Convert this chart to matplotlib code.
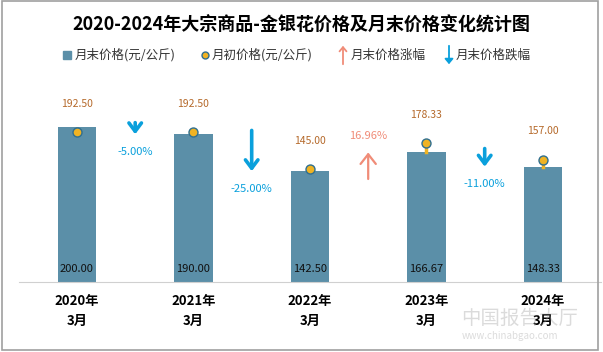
import matplotlib
matplotlib.use('Agg')
import matplotlib.pyplot as plt
from matplotlib.lines import Line2D
from matplotlib.patches import FancyArrowPatch, Rectangle

plt.rcParams['font.family'] = ['Noto Sans CJK SC', 'DejaVu Sans']

# data
categories = ['2020年\n3月', '2021年\n3月', '2022年\n3月', '2023年\n3月', '2024年\n3月']
end_price = [200.00, 190.00, 142.50, 166.67, 148.33]     # 月末价格
start_price = [192.50, 192.50, 145.00, 178.33, 157.00]   # 月初价格
change_pct = [-5.00, -25.00, 16.96, -11.00]              # 月末价格变化

bar_c = '#5b8fa8'
dot_c = '#f0b323'
dot_edge = '#2f6f90'
lab_c = '#b5692a'
down_c = '#0aa0dc'
up_c = '#f08c78'

fig = plt.figure(figsize=(6.03, 3.52), dpi=100)
fig.patches.append(Rectangle((0.003, 0.006), 0.989, 0.99, transform=fig.transFigure,
                             fill=False, edgecolor='#a0a0a0', lw=1.2))
ax = fig.add_axes([0.031, 0.199, 0.966, 0.574])

x = list(range(len(categories)))
ax.bar(x, end_price, width=0.33, color=bar_c, zorder=2)
for i, v in enumerate(end_price):
    ax.text(i, 10, f'{v:.2f}', ha='center', va='bottom', fontsize=8, color='#111111', zorder=4)

# 月初价格 dots (with stem to bar top if higher)
for i, v in enumerate(start_price):
    if v > end_price[i]:
        ax.plot([i, i], [end_price[i], v], color=dot_c, lw=2.5, zorder=3)
ax.scatter(x, start_price, s=42, color=dot_c, edgecolor=dot_edge, linewidth=1, zorder=5)
for i, v in enumerate(start_price):
    ax.annotate(f'{v:.2f}', (i, v), xytext=(0, 17), textcoords='offset points',
                ha='center', va='bottom', fontsize=7.5, color=lab_c)

# change arrows between bars
for i, p in enumerate(change_pct):
    xm = i + 0.5
    y0, y1 = end_price[i], end_price[i + 1]
    if p < 0:
        ax.annotate('', xy=(xm, y1), xytext=(xm, y0 + 5),
                    arrowprops=dict(arrowstyle='->,head_length=0.6,head_width=0.45',
                                    color=down_c, lw=2.6, shrinkA=0, shrinkB=0))
        ax.annotate(f'{p:.2f}%', (xm, y1), xytext=(0, -9), textcoords='offset points',
                    ha='center', va='top', fontsize=8, color=down_c)
    else:
        ax.annotate('', xy=(xm, y1), xytext=(xm, y0 - 10),
                    arrowprops=dict(arrowstyle='->,head_length=0.7,head_width=0.55',
                                    color=up_c, lw=1.6, shrinkA=0, shrinkB=0))
        ax.annotate(f'{p:.2f}%', (xm, y1), xytext=(0, 8), textcoords='offset points',
                    ha='center', va='bottom', fontsize=8, color=up_c)

ax.set_xlim(-0.5, 4.5)
ax.set_ylim(0, 260)
ax.set_xticks(x)
ax.set_xticklabels(categories, fontsize=9.5, fontweight='bold', linespacing=1.5)
ax.tick_params(axis='x', length=0, pad=9)
ax.set_yticks([])
for s in ['top', 'right', 'left']:
    ax.spines[s].set_visible(False)
ax.spines['bottom'].set_color('#d0d0d0')

fig.text(0.5, 0.929, '2020-2024年大宗商品-金银花价格及月末价格变化统计图',
         ha='center', va='center', fontsize=13, fontweight='bold')

# legend
ly = 1 - 55 / 352
fig.add_artist(Line2D([67 / 603], [ly], marker='s', ms=6, color=bar_c, transform=fig.transFigure))
fig.text(75 / 603, ly, '月末价格(元/公斤)', va='center', fontsize=9, color='#333333')
fig.add_artist(Line2D([205 / 603], [ly], marker='o', ms=5, color=dot_c, mec=dot_edge,
                      transform=fig.transFigure))
fig.text(212 / 603, ly, '月初价格(元/公斤)', va='center', fontsize=9, color='#333333')
fig.add_artist(FancyArrowPatch((343 / 603, 1 - 67 / 352), (343 / 603, 1 - 43 / 352),
                               transform=fig.transFigure, arrowstyle='->,head_length=3,head_width=2.5',
                               color=up_c, lw=1.3))
fig.text(351 / 603, ly, '月末价格涨幅', va='center', fontsize=9, color='#333333')
fig.add_artist(FancyArrowPatch((449 / 603, 1 - 43 / 352), (449 / 603, 1 - 67 / 352),
                               transform=fig.transFigure, arrowstyle='-|>,head_length=3,head_width=2.5',
                               color=down_c, lw=1.3))
fig.text(456 / 603, ly, '月末价格跌幅', va='center', fontsize=9, color='#333333')

# watermark
fig.text(0.765, 0.095, '中国报告大厅', fontsize=14, color='#9a9a9a', alpha=0.35, va='center')
fig.text(0.765, 0.045, 'www.chinabgao.com', fontsize=7, color='#9a9a9a', alpha=0.35, va='center')

fig.savefig('out.png', dpi=100)
